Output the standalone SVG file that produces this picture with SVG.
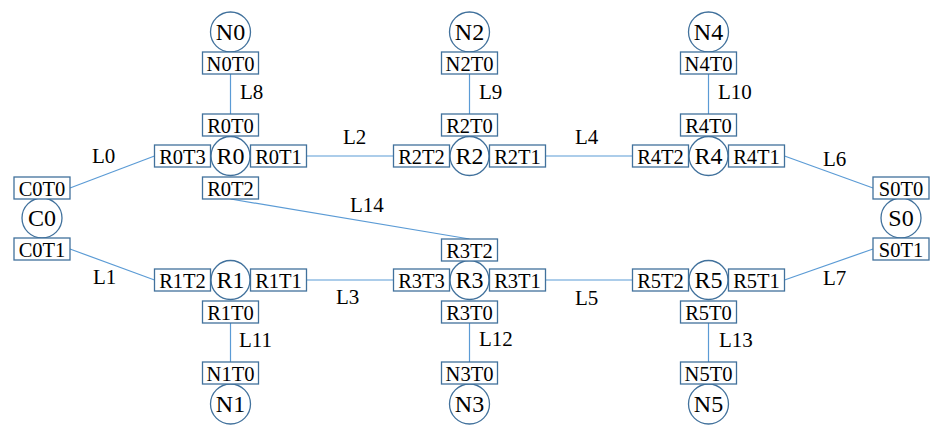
<svg xmlns="http://www.w3.org/2000/svg" width="943" height="436" viewBox="0 0 943 436" font-family="Tinos, Liberation Serif, serif">
<style>
.bg{fill:#ffffff}
.c{fill:#ffffff;stroke:#41719c;stroke-width:1.3}
.b{fill:#ffffff;stroke:#41719c;stroke-width:1.3}
.ln{stroke:#5b9bd5;stroke-width:1.2;fill:none}
.n{font-size:24px;text-anchor:middle;fill:#000}
.p{font-size:20.5px;text-anchor:middle;fill:#000}
.l{font-size:21px;fill:#000}
</style>
<rect class="bg" x="0" y="0" width="943" height="436"/>
<g id="connectors">
<line class="ln" x1="70" y1="188" x2="154.5" y2="156"/>
<line class="ln" x1="70" y1="249" x2="154.5" y2="280"/>
<line class="ln" x1="306.5" y1="156" x2="393.5" y2="156"/>
<line class="ln" x1="306.5" y1="280" x2="393.5" y2="280"/>
<line class="ln" x1="545.5" y1="156" x2="632.5" y2="156"/>
<line class="ln" x1="545.5" y1="280" x2="632.5" y2="280"/>
<line class="ln" x1="784.5" y1="156" x2="873" y2="188"/>
<line class="ln" x1="784.5" y1="280" x2="873" y2="249"/>
<line class="ln" x1="230.5" y1="74" x2="230.5" y2="114"/>
<line class="ln" x1="469.5" y1="74" x2="469.5" y2="114"/>
<line class="ln" x1="708.5" y1="74" x2="708.5" y2="114"/>
<line class="ln" x1="230.5" y1="323" x2="230.5" y2="362"/>
<line class="ln" x1="469.5" y1="323" x2="469.5" y2="362"/>
<line class="ln" x1="708.5" y1="323" x2="708.5" y2="362"/>
<line class="ln" x1="230.5" y1="199" x2="469.5" y2="239"/>
<text class="l" x="92" y="163">L0</text>
<text class="l" x="93" y="284">L1</text>
<text class="l" x="343" y="144">L2</text>
<text class="l" x="336" y="304">L3</text>
<text class="l" x="575" y="144">L4</text>
<text class="l" x="575" y="305">L5</text>
<text class="l" x="823" y="166">L6</text>
<text class="l" x="823" y="285">L7</text>
<text class="l" x="240" y="99">L8</text>
<text class="l" x="479" y="99">L9</text>
<text class="l" x="718" y="99">L10</text>
<text class="l" x="239" y="347">L11</text>
<text class="l" x="479" y="346">L12</text>
<text class="l" x="719" y="347">L13</text>
<text class="l" x="350" y="212">L14</text>
</g>
<g id="R0">
<circle class="c" cx="230.5" cy="156" r="19.5"/><text class="n" x="230.5" y="164">R0</text>
<rect class="b" x="202.5" y="114" width="56" height="22"/><text class="p" x="230.5" y="132.5">R0T0</text>
<rect class="b" x="250.5" y="145" width="56" height="22"/><text class="p" x="278.5" y="163.5">R0T1</text>
<rect class="b" x="202.5" y="177" width="56" height="22"/><text class="p" x="230.5" y="195.5">R0T2</text>
<rect class="b" x="154.5" y="145" width="56" height="22"/><text class="p" x="182.5" y="163.5">R0T3</text>
</g>
<g id="R2">
<circle class="c" cx="469.5" cy="156" r="19.5"/><text class="n" x="469.5" y="164">R2</text>
<rect class="b" x="441.5" y="114" width="56" height="22"/><text class="p" x="469.5" y="132.5">R2T0</text>
<rect class="b" x="489.5" y="145" width="56" height="22"/><text class="p" x="517.5" y="163.5">R2T1</text>
<rect class="b" x="393.5" y="145" width="56" height="22"/><text class="p" x="421.5" y="163.5">R2T2</text>
</g>
<g id="R4">
<circle class="c" cx="708.5" cy="156" r="19.5"/><text class="n" x="708.5" y="164">R4</text>
<rect class="b" x="680.5" y="114" width="56" height="22"/><text class="p" x="708.5" y="132.5">R4T0</text>
<rect class="b" x="728.5" y="145" width="56" height="22"/><text class="p" x="756.5" y="163.5">R4T1</text>
<rect class="b" x="632.5" y="145" width="56" height="22"/><text class="p" x="660.5" y="163.5">R4T2</text>
</g>
<g id="R1">
<circle class="c" cx="230.5" cy="280" r="19.5"/><text class="n" x="230.5" y="288">R1</text>
<rect class="b" x="202.5" y="301" width="56" height="22"/><text class="p" x="230.5" y="319.5">R1T0</text>
<rect class="b" x="250.5" y="269" width="56" height="22"/><text class="p" x="278.5" y="287.5">R1T1</text>
<rect class="b" x="154.5" y="269" width="56" height="22"/><text class="p" x="182.5" y="287.5">R1T2</text>
</g>
<g id="R3">
<circle class="c" cx="469.5" cy="280" r="19.5"/><text class="n" x="469.5" y="288">R3</text>
<rect class="b" x="441.5" y="301" width="56" height="22"/><text class="p" x="469.5" y="319.5">R3T0</text>
<rect class="b" x="489.5" y="269" width="56" height="22"/><text class="p" x="517.5" y="287.5">R3T1</text>
<rect class="b" x="441.5" y="239" width="56" height="22"/><text class="p" x="469.5" y="257.5">R3T2</text>
<rect class="b" x="393.5" y="269" width="56" height="22"/><text class="p" x="421.5" y="287.5">R3T3</text>
</g>
<g id="R5">
<circle class="c" cx="708.5" cy="280" r="19.5"/><text class="n" x="708.5" y="288">R5</text>
<rect class="b" x="680.5" y="301" width="56" height="22"/><text class="p" x="708.5" y="319.5">R5T0</text>
<rect class="b" x="728.5" y="269" width="56" height="22"/><text class="p" x="756.5" y="287.5">R5T1</text>
<rect class="b" x="632.5" y="269" width="56" height="22"/><text class="p" x="660.5" y="287.5">R5T2</text>
</g>
<g id="N0">
<circle class="c" cx="230.5" cy="32" r="20"/><text class="n" x="230.5" y="40">N0</text>
<rect class="b" x="202.5" y="52" width="56" height="22"/><text class="p" x="230.5" y="70.5">N0T0</text>
</g>
<g id="N2">
<circle class="c" cx="469.5" cy="32" r="20"/><text class="n" x="469.5" y="40">N2</text>
<rect class="b" x="441.5" y="52" width="56" height="22"/><text class="p" x="469.5" y="70.5">N2T0</text>
</g>
<g id="N4">
<circle class="c" cx="708.5" cy="32" r="20"/><text class="n" x="708.5" y="40">N4</text>
<rect class="b" x="680.5" y="52" width="56" height="22"/><text class="p" x="708.5" y="70.5">N4T0</text>
</g>
<g id="N1">
<circle class="c" cx="230.5" cy="404" r="20"/><text class="n" x="230.5" y="412">N1</text>
<rect class="b" x="202.5" y="362" width="56" height="22"/><text class="p" x="230.5" y="380.5">N1T0</text>
</g>
<g id="N3">
<circle class="c" cx="469.5" cy="404" r="20"/><text class="n" x="469.5" y="412">N3</text>
<rect class="b" x="441.5" y="362" width="56" height="22"/><text class="p" x="469.5" y="380.5">N3T0</text>
</g>
<g id="N5">
<circle class="c" cx="708.5" cy="404" r="20"/><text class="n" x="708.5" y="412">N5</text>
<rect class="b" x="680.5" y="362" width="56" height="22"/><text class="p" x="708.5" y="380.5">N5T0</text>
</g>
<g id="C0">
<circle class="c" cx="42" cy="218" r="20"/><text class="n" x="42" y="226">C0</text>
<rect class="b" x="14" y="177" width="56" height="22"/><text class="p" x="42" y="195.5">C0T0</text>
<rect class="b" x="14" y="238" width="56" height="22"/><text class="p" x="42" y="256.5">C0T1</text>
</g>
<g id="S0">
<circle class="c" cx="901" cy="218" r="20"/><text class="n" x="901" y="226">S0</text>
<rect class="b" x="873" y="177" width="56" height="22"/><text class="p" x="901" y="195.5">S0T0</text>
<rect class="b" x="873" y="238" width="56" height="22"/><text class="p" x="901" y="256.5">S0T1</text>
</g>
</svg>
